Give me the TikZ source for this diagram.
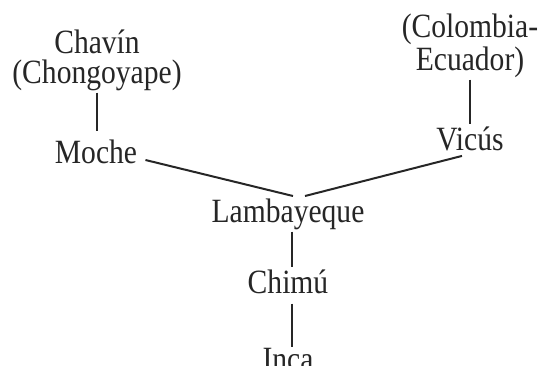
\documentclass[tikz,border=0pt]{standalone}
\usepackage{fontspec}
\setmainfont[FakeStretch=0.87]{Liberation Serif}
\usetikzlibrary{calc}
\begin{document}
\begin{tikzpicture}[x=0.5pt, y=-0.5pt,
    culture/.style={font=\fontsize{17}{15}\selectfont, align=center, anchor=base, inner sep=1pt, text=black!85},
    link/.style={line width=1pt, black!85}]
\useasboundingbox (0,0) rectangle (542,365);
% cultures
\node[culture] (chavin) at (97,83) {Chavín\\(Chongoyape)};
\node[culture] (moche) at (96,163) {Moche};
\node[culture] (colombia) at (470,70) {(Colombia-\\Ecuador)};
\node[culture] (vicus) at (470,150) {Vicús};
\node[culture] (lamb) at (288,222) {Lambayeque};
\node[culture] (chimu) at (288,293) {Chimú};
\node[culture] (inca) at (288,370) {Inca};
% vertical links
\draw[link, shorten >=3pt] (chavin.south) -- (chavin.south |- moche.north);
\draw[link] (colombia.south) -- (colombia.south |- vicus.north);
\draw[link] ([xshift=2pt]lamb.south) -- ([xshift=2pt]chimu.north);
\draw[link, shorten <=4pt, shorten >=-1pt] ([xshift=2pt]chimu.south) -- ([xshift=2pt]inca.north);
% branches into Lambayeque
\draw[link] ([shift={(3pt,1.5pt)}]moche.base east) -- ([xshift=2.5pt]lamb.north);
\draw[link] ([shift={(-4pt,-1.5pt)}]vicus.south) -- ([xshift=8.5pt]lamb.north);
\end{tikzpicture}
\end{document}
